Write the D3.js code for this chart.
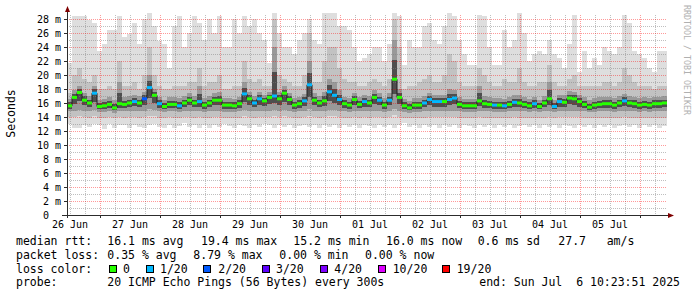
<!DOCTYPE html>
<html><head><meta charset="utf-8">
<script src="https://cdn.jsdelivr.net/npm/d3@7"></script>
<style>body{margin:0;background:#fff}svg{display:block}text{font-family:"DejaVu Sans Mono",monospace;white-space:pre}</style>
</head><body><svg id="c" width="697" height="297"></svg>
<script>
// ---- data: 2-hour columns starting 26 Jun 10:48 ----
const med = [15.6,16.8,17.5,16.4,16.0,17.4,15.5,15.6,15.8,15.3,15.9,15.8,16.0,16.2,16.0,16.6,18.2,17.1,15.9,15.5,
15.8,15.8,15.6,16.0,16.4,16.0,16.2,15.7,16.0,16.4,16.4,15.7,15.7,15.6,15.9,17.3,16.6,16.0,16.6,16.3,
16.8,17.0,16.6,17.4,16.5,15.7,15.9,16.3,18.6,16.4,16.0,16.3,17.6,17.1,16.5,15.9,15.7,16.5,15.8,16.2,
16.0,16.8,16.4,15.7,16.4,19.4,16.8,15.6,15.3,15.7,15.7,16.0,16.5,16.2,16.2,16.2,16.5,16.7,15.8,15.6,
15.6,15.6,16.3,15.9,15.8,15.7,15.7,15.6,15.8,16.1,16.0,15.8,15.6,15.9,15.5,16.0,16.6,15.5,16.2,16.1,
16.7,16.6,16.2,15.8,15.4,15.7,15.8,15.9,15.9,15.7,16.0,16.3,16.0,15.9,15.7,15.8,15.7,15.9,15.9,16.0];
const loss = [0,0,0,0,0,1,0,0,0,0,0,0,0,1,0,2,1,0,1,0,
0,0,1,0,0,0,1,0,0,0,0,0,0,0,0,1,0,1,1,0,
0,1,0,0,0,0,0,1,1,0,0,0,1,1,1,0,0,0,0,1,
0,0,1,0,1,0,0,0,0,0,0,1,1,1,1,0,1,1,0,0,
0,0,0,0,0,1,0,1,0,1,0,0,0,1,0,0,0,1,1,0,
0,0,0,0,0,0,0,0,0,0,0,1,0,0,0,0,0,0,0,0];
const lo = [13.0,12.5,12.5,12.8,12.6,13.0,12.8,12.3,13.0,12.5,12.8,12.8,12.5,12.9,12.6,12.5,12.8,13.0,12.6,12.5,
12.9,12.4,12.7,13.1,12.6,12.8,12.5,12.9,12.4,12.8,12.6,13.0,12.7,12.5,12.9,12.7,12.5,12.8,12.6,13.0,
12.8,12.5,12.9,12.6,12.8,12.4,12.7,12.9,12.6,12.8,12.5,12.9,12.6,12.8,12.5,12.9,12.6,12.8,12.4,12.9,
12.7,12.5,12.8,12.6,12.9,12.5,12.8,13.1,12.6,12.8,12.5,12.9,12.6,12.8,12.4,12.9,12.6,12.8,12.5,12.9,
12.7,12.5,12.8,12.6,12.9,12.5,12.8,12.6,12.9,12.4,12.7,12.9,12.6,12.8,12.5,12.9,12.6,12.8,12.5,12.9,
12.7,12.5,12.8,12.6,12.9,12.5,12.8,12.6,12.9,12.5,12.7,12.8,12.6,12.9,12.5,12.8,12.6,12.9,12.5,12.7];
const q10 = [14.0,14.0,14.1,14.0,13.9,14.1,13.9,13.8,14.0,13.8,14.0,13.9,14.0,14.0,13.9,14.0,14.2,14.1,13.9,13.8,
14.0,13.9,13.9,14.0,14.0,13.9,14.0,13.9,13.9,14.0,14.0,13.9,13.9,13.8,13.9,14.1,14.0,13.9,14.0,14.0,
14.0,14.1,14.0,14.1,14.0,13.9,13.9,14.0,14.2,14.0,13.9,14.0,14.1,14.1,14.0,13.9,13.9,14.0,13.9,14.0,
13.9,14.0,14.0,13.9,14.0,14.3,14.0,13.9,13.8,13.9,13.9,13.9,14.0,14.0,14.0,14.0,14.0,14.0,13.9,13.9,
13.9,13.9,14.0,13.9,13.9,13.9,13.9,13.9,13.9,14.0,13.9,13.9,13.9,13.9,13.8,13.9,14.0,13.8,14.0,14.0,
14.0,14.0,14.0,13.9,13.8,13.9,13.9,13.9,13.9,13.9,13.9,14.0,13.9,13.9,13.9,13.9,13.9,13.9,13.9,13.9];
const q25 = [14.8,14.9,15.0,14.9,14.8,15.0,14.7,14.7,14.8,14.6,14.8,14.8,14.8,14.9,14.8,14.9,15.1,15.0,14.8,14.7,
14.8,14.8,14.7,14.8,14.9,14.8,14.8,14.7,14.8,14.9,14.9,14.7,14.7,14.7,14.8,15.0,14.9,14.8,14.9,14.8,
14.9,15.0,14.9,15.0,14.9,14.7,14.8,14.8,15.1,14.9,14.8,14.8,15.0,15.0,14.9,14.8,14.7,14.9,14.8,14.8,
14.8,14.9,14.9,14.7,14.9,15.2,14.9,14.7,14.6,14.7,14.7,14.8,14.9,14.8,14.8,14.8,14.9,14.9,14.8,14.7,
14.7,14.7,14.8,14.8,14.8,14.7,14.7,14.7,14.8,14.8,14.8,14.8,14.7,14.8,14.7,14.8,14.9,14.7,14.8,14.8,
14.9,14.9,14.8,14.8,14.7,14.7,14.8,14.8,14.8,14.7,14.8,14.8,14.8,14.8,14.7,14.8,14.7,14.8,14.8,14.8];
const q75 = [16.6,17.8,18.4,17.5,17.0,18.5,16.5,16.6,16.8,16.4,19.0,16.8,17.0,17.2,17.0,17.6,20.0,18.0,16.9,16.5,
16.8,16.8,16.7,17.0,17.4,17.0,18.5,16.7,17.0,17.4,17.6,16.7,16.7,16.6,16.9,19.0,17.6,17.0,17.6,17.2,
17.6,24.0,17.6,18.4,17.5,16.7,16.9,17.3,22.0,17.4,17.0,17.6,19.5,19.0,17.8,16.9,16.7,17.5,16.8,17.2,
17.0,17.8,17.4,16.7,17.4,25.0,18.0,16.6,16.3,16.7,16.7,17.0,17.5,17.2,17.2,17.2,18.0,17.8,16.8,16.6,
16.6,16.6,18.5,17.0,16.8,16.7,16.7,16.6,16.8,17.1,17.2,16.8,16.6,16.9,16.5,17.0,19.0,16.5,17.2,17.1,
17.7,17.6,17.2,16.8,16.4,16.7,16.8,16.9,16.9,16.7,17.0,17.3,17.0,16.9,16.7,16.8,16.7,16.9,16.9,17.0];
const q90 = [17.5,20.0,21.0,19.5,19.0,20.0,18.0,18.0,18.5,18.0,22.0,18.5,18.5,19.0,18.0,20.0,24.0,20.0,18.5,18.0,
18.0,18.5,18.5,18.5,19.0,19.0,21.0,18.5,19.0,19.0,20.0,18.0,18.0,18.5,18.5,22.0,19.5,19.0,19.5,18.5,
18.5,28.0,20.0,19.5,19.0,18.5,18.5,20.0,26.0,19.0,19.0,22.0,24.0,24.0,21.0,19.5,19.0,19.0,18.5,18.5,
19.0,19.5,19.0,18.5,19.5,28.0,24.0,18.0,18.5,18.5,19.0,19.5,20.0,19.0,19.0,20.0,23.0,22.0,19.0,18.5,
18.5,18.5,21.0,20.0,19.0,18.5,18.5,19.5,19.0,19.0,21.0,19.0,18.5,18.5,19.0,19.0,21.5,19.0,18.5,18.5,
19.5,20.0,18.5,18.5,18.5,18.5,18.5,19.0,19.0,18.5,19.0,21.0,20.0,19.0,18.5,18.5,18.5,18.0,18.5,18.5];
const hi = [21.7,28.5,28.5,28.5,27.8,27.5,23.5,24.5,26.5,26.5,28.5,25.5,25.8,27.5,24.5,28.0,28.8,27.0,24.8,24.5,
21.0,27.0,28.5,24.0,26.0,28.5,27.5,25.0,28.0,26.0,28.5,24.0,24.0,28.0,26.0,28.5,27.0,28.0,26.0,25.0,
21.7,28.8,26.0,24.0,24.0,23.0,25.0,26.0,28.0,25.0,24.5,28.8,28.8,28.8,27.0,27.0,26.5,24.0,22.0,22.5,
23.0,24.0,24.0,22.0,24.5,28.8,28.5,21.5,25.0,24.0,24.0,27.0,27.5,25.0,24.5,27.0,28.8,28.5,25.0,23.0,
21.5,21.5,28.6,28.5,24.0,21.5,21.5,26.5,24.0,25.0,28.8,26.0,22.0,23.0,23.5,23.0,25.0,23.0,22.5,21.0,
24.5,28.6,20.5,23.5,21.0,22.5,21.5,24.0,23.5,23.0,24.0,28.6,27.5,23.5,23.0,22.5,21.0,20.5,23.5,23.5];

const dayLabels = ["26 Jun","27 Jun","28 Jun","29 Jun","30 Jun","01 Jul","02 Jul","03 Jul","04 Jul","05 Jul"];
const yTicks = [0,2,4,6,8,10,12,14,16,18,20,22,24,26,28];
const yTickLabels = ["0  ","2 m","4 m","6 m","8 m","10 m","12 m","14 m","16 m","18 m","20 m","22 m","24 m","26 m","28 m"];
const lossLabels = ["0","1/20","2/20","3/20","4/20","10/20","19/20"];
const lossColors = ["#26ff00","#00b8ff","#0059ff","#5e00ff","#7e00ff","#dd00ff","#ff0000"];
const rttItems = ["16.1 ms avg","19.4 ms max","15.2 ms min","16.0 ms now","0.6 ms sd","27.7","am/s"];
const lossItems = ["0.35 % avg","8.79 % max","0.00 % min","0.00 % now"];
const probeText = "20 ICMP Echo Pings (56 Bytes) every 300s";
const endText = "end: Sun Jul  6 10:23:51 2025";

// ---- layout ----
const svg = d3.select("#c");
const H = 3600e3;
const t0 = Date.UTC(2025,5,26,10,48);
const t1 = t0 + 240*H;
const step = 2*H;
const x = d3.scaleUtc().domain([t0,t1]).range([67,667]);
const y = d3.scaleLinear().domain([0,200/7]).range([215,15]);
const tc = i => t0 + i*step;

const g = svg.append("g");
const bands = [[lo,hi,"#dedede"],[q10,q90,"#c2c2c2"],[q25,q75,"#999999"]];
bands.forEach(([a,b,c])=>{
  g.selectAll(null).data(med).enter().append("rect")
   .attr("x",(d,i)=>x(tc(i))).attr("width",(d,i)=>x(tc(i+1))-x(tc(i)))
   .attr("y",(d,i)=>y(b[i])).attr("height",(d,i)=>y(a[i])-y(b[i]))
   .attr("fill",c).attr("shape-rendering","crispEdges");
});
g.selectAll(null).data(med).enter().append("rect")
  .attr("x",(d,i)=>x(tc(i))).attr("width",(d,i)=>x(tc(i+1))-x(tc(i)))
  .attr("y",(d,i)=>y((d+q75[i])/2)).attr("height",(d,i)=>y((d+q25[i])/2)-y((d+q75[i])/2))
  .attr("fill","#4e4e4e").attr("shape-rendering","crispEdges");

// grid
const grid = svg.append("g").attr("shape-rendering","crispEdges");
const minorX = d3.utcHour.every(6).range(t0,t1).filter(d=>d.getUTCHours()!==0);
const majorX = d3.utcDay.range(t0,t1);
grid.selectAll(null).data(minorX).enter().append("line")
  .attr("x1",d=>Math.round(x(d))+0.5).attr("x2",d=>Math.round(x(d))+0.5).attr("y1",15).attr("y2",215)
  .attr("stroke","rgba(128,128,128,0.5)").attr("stroke-dasharray","1,1");
const minorY = d3.range(1,29).filter(v=>v%2);
grid.selectAll(null).data(minorY).enter().append("line")
  .attr("x1",67).attr("x2",667).attr("y1",d=>Math.round(y(d))+0.5).attr("y2",d=>Math.round(y(d))+0.5)
  .attr("stroke","rgba(128,128,128,0.5)").attr("stroke-dasharray","1,1");
grid.selectAll(null).data(majorX).enter().append("line")
  .attr("x1",d=>Math.round(x(d))+0.5).attr("x2",d=>Math.round(x(d))+0.5).attr("y1",15).attr("y2",215)
  .attr("stroke","rgba(255,0,0,0.4)").attr("stroke-dasharray","1,1");
grid.selectAll(null).data(yTicks.slice(1)).enter().append("line")
  .attr("x1",67).attr("x2",667).attr("y1",d=>Math.round(y(d))+0.5).attr("y2",d=>Math.round(y(d))+0.5)
  .attr("stroke","rgba(255,0,0,0.4)").attr("stroke-dasharray","1,1");

// median line
const pts = med.map((d,i)=>[x(tc(i)),y(d)]);
pts.push([x(t1),y(med[med.length-1])]);
svg.append("path").attr("d",d3.line().curve(d3.curveStepAfter)(pts))
  .attr("fill","none").attr("stroke","#202020").attr("stroke-width",1);
svg.selectAll(null).data(med).enter().append("rect")
  .attr("x",(d,i)=>x(tc(i))).attr("width",(d,i)=>x(tc(i+1))-x(tc(i)))
  .attr("y",d=>y(d)-1.5).attr("height",3)
  .attr("fill",(d,i)=>lossColors[loss[i]]);

// axes
const ax = svg.append("g").attr("shape-rendering","crispEdges");
ax.append("line").attr("x1",62).attr("x2",670).attr("y1",215.5).attr("y2",215.5).attr("stroke","#2c2c2c");
ax.append("line").attr("x1",67.5).attr("x2",67.5).attr("y1",218).attr("y2",10).attr("stroke","#2c2c2c");
ax.selectAll(null).data(yTicks).enter().append("line")
  .attr("x1",64).attr("x2",67).attr("y1",d=>Math.round(y(d))+0.5).attr("y2",d=>Math.round(y(d))+0.5).attr("stroke","#2c2c2c");
ax.selectAll(null).data(majorX).enter().append("line")
  .attr("x1",d=>Math.round(x(d))+0.5).attr("x2",d=>Math.round(x(d))+0.5).attr("y1",215).attr("y2",218).attr("stroke","#2c2c2c");
svg.append("path").attr("d","M67.5,6 L65,12 L70,12 Z").attr("fill","#7f0000");
svg.append("path").attr("d","M674,215.5 L668,213 L668,218 Z").attr("fill","#7f0000");

svg.selectAll(null).data(yTicks).enter().append("text")
  .attr("x",61).attr("y",d=>y(d)+3.5).attr("text-anchor","end").attr("font-size",10).attr("fill","#000")
  .attr("xml:space","preserve")
  .text((d,i)=>yTickLabels[i]);
svg.selectAll(null).data(dayLabels).enter().append("text")
  .attr("x",(d,i)=>x(+majorX[0] - 12*H + i*24*H)).attr("y",228).attr("text-anchor","middle").attr("font-size",10)
  .text(d=>d);

svg.append("text").attr("transform","translate(15,113.5) rotate(-90)").attr("text-anchor","middle")
  .attr("font-size",11.5).text("Seconds");
svg.append("text").attr("transform","translate(684,5) rotate(90)").attr("font-size",8.3)
  .attr("fill","#b0b0b0").text("RRDTOOL / TOBI OETIKER");

const fs = 11.5;
const rows = [245,258.5,272.5,286];
["median rtt:","packet loss:","loss color:","probe:"].forEach((t,i)=>
  svg.append("text").attr("x",16).attr("y",rows[i]).attr("font-size",fs).text(t));
const rttX = [107.3,201,293.3,386,477.7,558.3,606.7];
rttItems.forEach((t,i)=>svg.append("text").attr("x",rttX[i]).attr("y",rows[0]).attr("font-size",fs).text(t));
const lossX = [107.3,193.3,279.3,365];
lossItems.forEach((t,i)=>svg.append("text").attr("x",lossX[i]).attr("y",rows[1]).attr("font-size",fs).text(t));
const sqX = [108.5,146,203.3,261.7,320,378.3,441.7];
const lblX = [123,160,218.3,276,334.3,392.7,456.7];
lossLabels.forEach((t,i)=>{
  svg.append("rect").attr("x",Math.round(sqX[i])+0.5).attr("y",265.5).attr("width",7).attr("height",7)
    .attr("fill",lossColors[i]).attr("stroke","#000");
  svg.append("text").attr("x",lblX[i]).attr("y",rows[2]).attr("font-size",fs).text(t);
});
svg.append("text").attr("x",107.3).attr("y",rows[3]).attr("font-size",fs).text(probeText);
svg.append("text").attr("x",680).attr("y",rows[3]).attr("font-size",fs).attr("text-anchor","end")
  .attr("xml:space","preserve").text(endText);
</script></body></html>
